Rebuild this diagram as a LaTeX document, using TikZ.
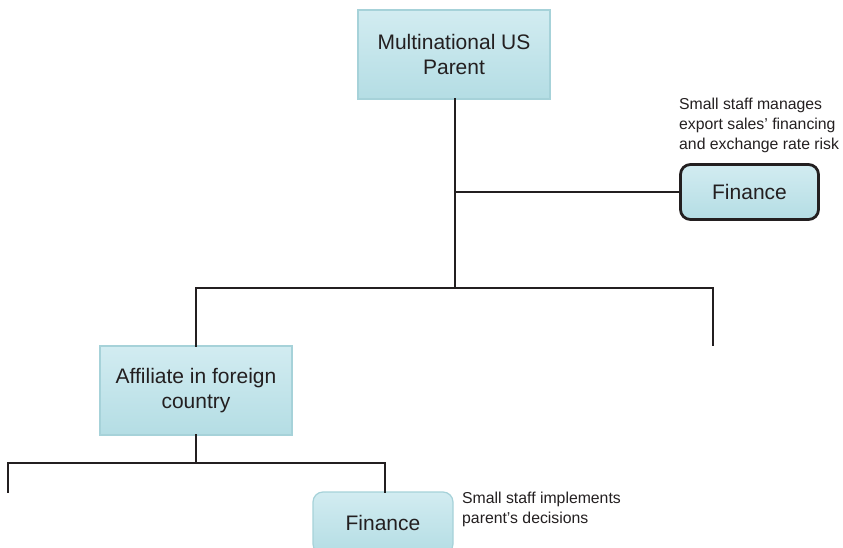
\documentclass[tikz,border=0pt]{standalone}
\usepackage{fontspec}
\setmainfont{Liberation Sans}
\begin{document}
\begin{tikzpicture}[x=1pt,y=-1pt,
  unitbox/.style={draw=boxline, line width=1.2pt, top color=boxtop, bottom color=boxbot,
    text=ink, font=\fontsize{21}{25}\selectfont, align=center, inner sep=0pt},
  finbold/.style={unitbox, draw=ink, line width=2.8pt, rounded corners=10pt},
  finsoft/.style={unitbox, rounded corners=10pt},
  note/.style={text=ink, font=\fontsize{15.8}{20}\selectfont, align=left, inner sep=0pt},
  wire/.style={draw=ink, line width=2.8pt, line join=miter, line cap=rect}]
\definecolor{ink}{HTML}{231F20}
\definecolor{boxtop}{HTML}{D2ECF1}
\definecolor{boxbot}{HTML}{B4DDE4}
\definecolor{boxline}{HTML}{A6D2D9}
\useasboundingbox (0,0) rectangle (843,548);
\clip (0,0) rectangle (843,548);

% organisation units
\node[unitbox, minimum width=192pt, minimum height=89pt] (parent) at (454,54.5)
  {Multinational US\\Parent};
\node[finbold, minimum width=138pt, minimum height=55pt] (pfin) at (749.5,192) {Finance};
\node[unitbox, minimum width=192pt, minimum height=89pt] (affil) at (196,390.5)
  {Affiliate in foreign\\country};
\node[finsoft, minimum width=140pt, minimum height=62pt] (afin) at (383,523) {Finance};

% notes
\node[note, anchor=north west] (pnote) at (679,98)
  {Small staff manages\\export sales' financing\\and exchange rate risk};
\node[note, anchor=north west] (anote) at (462,492)
  {Small staff implements\\parent's decisions};

% junction points
\coordinate (trunk) at (455,288);
\coordinate (tap) at (455,192);
\coordinate (rtop) at (713,288);
\coordinate (rend) at (713,345);
\coordinate (ljoin) at (196,288);
\coordinate (atrunk) at (196,463);
\coordinate (lleft) at (8,463);
\coordinate (lend) at (8,492);
\coordinate (rright) at (385,463);

% connectors
\draw[wire] (parent.south -| trunk) -- (trunk);
\draw[wire] (tap) -- (pfin.west);
\draw[wire] (ljoin) -- (rtop) -- (rend);
\draw[wire] (ljoin) -- (affil.north);
\draw[wire] (affil.south) -- (atrunk);
\draw[wire] (lend) -- (lleft) -- (rright) -- (rright |- afin.north);
\end{tikzpicture}
\end{document}
